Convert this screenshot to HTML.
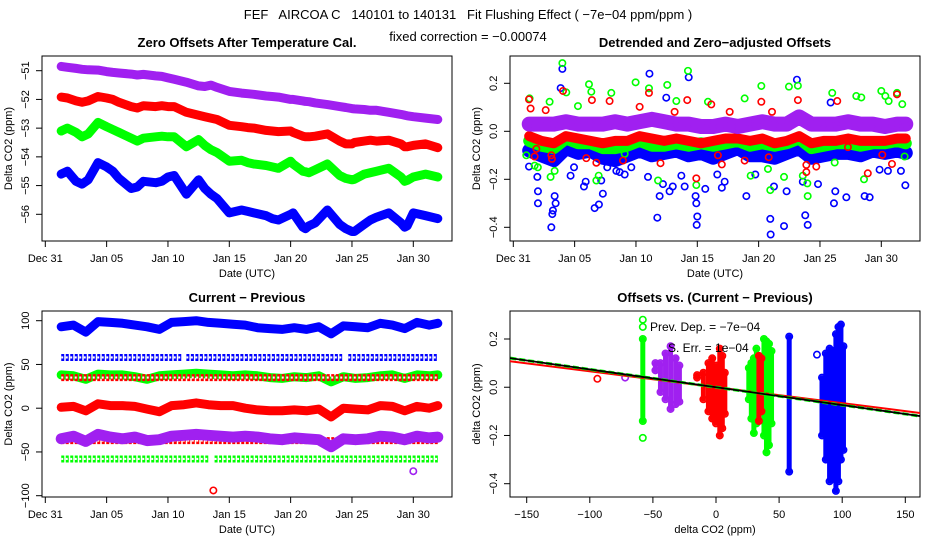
<!DOCTYPE html>
<html><head><meta charset="utf-8">
<style>
body{margin:0;background:#fff;}
svg{display:block;font-family:"Liberation Sans",sans-serif;}
</style></head>
<body>
<svg id="chart" width="936" height="540" viewBox="0 0 936 540" xmlns="http://www.w3.org/2000/svg">
<rect x="0" y="0" width="936" height="540" fill="#fff"/>
<text x="468" y="19" font-size="13" text-anchor="middle" style="white-space:pre" xml:space="preserve">FEF   AIRCOA C   140101 to 140131   Fit Flushing Effect ( −7e−04 ppm/ppm )</text>
<text x="468" y="41" font-size="13" text-anchor="middle">fixed correction = −0.00074</text>
<defs>
<clipPath id="c1"><rect x="42" y="56" width="410" height="185"/></clipPath>
<clipPath id="c2"><rect x="510" y="56" width="410" height="185"/></clipPath>
<clipPath id="c3"><rect x="42" y="311" width="410" height="186"/></clipPath>
<clipPath id="c4"><rect x="510" y="311" width="410" height="186"/></clipPath>
</defs>
</svg>
<script>
// ---------- Panel 1 data ----------
const p1Days = [1.3,1.8,2.5,3,3.5,4.3,5,5.5,6,7,7.5,8,9,9.5,10,10.5,11.5,12.5,13,13.5,14,15,16,16.5,17,18,18.5,19,20,20.2,21,21.2,21.5,22,23,24,24.5,25,25.2,26,26.5,27,28,29,29.3,29.5,30,31,32];
const p1Purple = [-50.85,-50.88,-50.92,-50.95,-50.97,-50.98,-51.03,-51.06,-51.08,-51.12,-51.15,-51.13,-51.18,-51.2,-51.25,-51.3,-51.4,-51.53,-51.55,-51.5,-51.58,-51.72,-51.78,-51.8,-51.82,-51.88,-51.9,-51.92,-52.0,-52.0,-52.05,-52.07,-52.08,-52.12,-52.18,-52.25,-52.28,-52.32,-52.33,-52.35,-52.38,-52.38,-52.45,-52.52,-52.55,-52.57,-52.6,-52.65,-52.7];
const p1Red = [-51.92,-51.95,-52.05,-52.1,-52.05,-51.9,-51.95,-52.0,-52.1,-52.25,-52.3,-52.22,-52.25,-52.22,-52.25,-52.25,-52.45,-52.55,-52.6,-52.65,-52.7,-52.9,-52.95,-52.98,-53.0,-53.08,-53.1,-53.12,-53.1,-53.15,-53.28,-53.3,-53.3,-53.28,-53.2,-53.45,-53.55,-53.55,-53.5,-53.45,-53.42,-53.45,-53.42,-53.55,-53.65,-53.65,-53.6,-53.55,-53.68];
const p1Green = [-53.1,-53.0,-53.15,-53.3,-53.2,-52.8,-52.95,-53.05,-53.15,-53.35,-53.45,-53.35,-53.3,-53.28,-53.3,-53.3,-53.65,-53.4,-53.6,-53.75,-53.85,-54.15,-54.12,-54.2,-54.25,-54.3,-54.35,-54.4,-54.15,-54.25,-54.5,-54.52,-54.55,-54.45,-54.25,-54.65,-54.75,-54.8,-54.78,-54.6,-54.55,-54.5,-54.4,-54.7,-54.85,-54.82,-54.7,-54.6,-54.7];
const p1Blue = [-54.6,-54.5,-54.85,-54.95,-54.8,-54.2,-54.35,-54.5,-54.75,-55.1,-55.05,-54.85,-54.9,-54.85,-54.7,-54.65,-55.3,-54.8,-55.1,-55.3,-55.45,-55.95,-55.85,-55.9,-55.95,-56.05,-56.15,-56.2,-56.0,-55.95,-56.45,-56.5,-56.4,-56.3,-55.85,-56.35,-56.5,-56.6,-56.6,-56.35,-56.2,-56.1,-55.95,-56.3,-56.45,-56.4,-55.95,-56.05,-56.15];
const p1YTicks = [-51,-52,-53,-54,-55,-56];
const dateTickDays = [0,5,10,15,20,25,30];
const dateTickLabels = ["Dec 31","Jan 05","Jan 10","Jan 15","Jan 20","Jan 25","Jan 30"];

// ---------- Panel 2 data ----------
const coreDays = [1.3,2.3,3.3,4.3,5.3,6.3,7.3,8.3,9.3,10.3,11.3,12.3,13.3,14.3,15.3,16.3,17.3,18.3,19.3,20.3,21.3,22.3,23.3,24.3,25.3,26.3,27.3,28.3,29.3,30.3,31.3,32];
const p2BlueCore = [-0.08,-0.1,-0.12,-0.07,-0.09,-0.08,-0.11,-0.12,-0.1,-0.08,-0.1,-0.09,-0.08,-0.1,-0.09,-0.11,-0.09,-0.07,-0.1,-0.1,-0.11,-0.09,-0.07,-0.11,-0.1,-0.09,-0.09,-0.1,-0.08,-0.09,-0.08,-0.09];
const p2GreenCore = [-0.04,-0.06,-0.07,-0.03,-0.05,-0.05,-0.07,-0.07,-0.06,-0.04,-0.06,-0.06,-0.05,-0.06,-0.05,-0.06,-0.05,-0.04,-0.06,-0.05,-0.06,-0.05,-0.03,-0.07,-0.06,-0.05,-0.05,-0.06,-0.05,-0.05,-0.04,-0.05];
const p2RedCore = [-0.02,-0.04,-0.05,-0.02,-0.03,-0.04,-0.05,-0.04,-0.04,-0.02,-0.03,-0.04,-0.03,-0.04,-0.05,-0.04,-0.03,-0.03,-0.04,-0.03,-0.05,-0.04,-0.02,-0.05,-0.04,-0.04,-0.03,-0.04,-0.04,-0.04,-0.03,-0.03];
const p2PurpleCore = [0.03,0.03,0.03,0.04,0.03,0.03,0.03,0.04,0.03,0.04,0.05,0.04,0.03,0.03,0.02,0.02,0.03,0.02,0.03,0.04,0.03,0.03,0.06,0.03,0.03,0.03,0.04,0.03,0.03,0.02,0.03,0.03];
const p2BlueDays = [1.28,1.96,2.01,2.01,3.1,3.18,3.23,3.37,3.45,4.0,3.86,4.67,4.95,5.76,5.9,6.63,6.98,7.3,7.17,7.66,8.4,8.67,9.08,9.62,11.1,10.98,11.74,11.93,12.2,12.47,12.74,13.0,13.7,13.97,14.3,14.86,14.92,15.0,14.95,15.65,16.63,17.0,17.23,19.0,19.73,20.95,20.98,21.25,22.07,22.28,23.12,23.6,23.8,24.0,24.84,25.87,26.14,26.25,27.15,28.64,29.05,29.86,30.54,31.6,31.96];
const p2BlueVals = [-0.147,-0.19,-0.25,-0.3,-0.4,-0.345,-0.33,-0.27,-0.3,0.26,0.18,-0.185,-0.15,-0.23,-0.21,-0.32,-0.305,-0.26,-0.205,-0.15,-0.165,-0.17,-0.18,-0.15,0.24,-0.19,-0.36,-0.27,-0.22,0.14,-0.25,-0.23,-0.185,-0.23,0.225,-0.27,-0.3,-0.355,-0.39,-0.24,-0.18,-0.235,-0.21,-0.27,-0.18,-0.365,-0.43,-0.23,-0.395,-0.25,0.215,-0.21,-0.35,-0.39,-0.22,0.12,-0.3,-0.25,-0.275,-0.27,-0.275,-0.16,-0.165,-0.165,-0.225];
const p2GreenDays = [1.06,1.33,1.74,2.0,2.96,3.04,3.37,4.0,4.32,5.27,6.17,6.36,6.77,6.96,7.99,9.08,9.97,11.06,11.8,12.55,13.29,14.24,14.92,15.87,18.86,19.35,20.22,20.76,20.95,22.07,22.47,23.2,23.6,23.97,24.0,26.0,26.2,27.96,28.37,28.59,30.0,30.33,30.6,31.28,31.71,31.9];
const p2GreenVals = [-0.1,0.137,-0.143,-0.15,0.123,-0.19,-0.165,0.284,0.162,0.105,0.196,0.165,-0.205,-0.185,0.16,-0.094,0.204,0.179,-0.205,0.193,0.126,0.252,-0.224,0.123,0.137,-0.185,0.189,-0.157,-0.245,-0.19,0.186,0.19,-0.185,-0.217,-0.27,0.16,-0.13,0.147,0.141,-0.2,0.168,0.147,0.126,0.16,0.113,-0.105];
const p2RedDays = [1.28,1.41,1.88,1.74,2.64,3.1,3.15,4.05,5.95,6.41,6.77,7.85,8.94,10.3,11.06,12.0,13.15,14.18,14.92,16.14,16.68,17.0,17.64,18.86,20.22,20.82,21.09,23.2,23.89,23.89,24.7,26.41,27.28,28.15,28.9,30.08,30.87,31.28,31.71];
const p2RedVals = [0.133,0.095,-0.073,-0.105,0.088,-0.1,-0.115,0.168,-0.112,0.13,-0.131,0.126,-0.122,0.102,0.16,-0.133,0.081,0.13,-0.196,0.112,-0.1,-0.138,0.081,-0.122,0.123,-0.108,0.081,0.13,-0.14,-0.17,-0.147,0.126,-0.066,-0.035,-0.175,-0.098,-0.136,0.154,0.021];
const p2YTicks = [0.2,0.0,-0.2,-0.4];
const p2YLabels = ["0.2","0.0","−0.2","−0.4"];

// ---------- Panel 3 data ----------
const p3BlueTop = [93,95,87,99,98,97,95,93,90,98,99,100,98,97,96,95,92,91,90,92,90,93,85,94,93,92,97,95,91,98,95,97];
const p3Green = [38,37,33,39,38,38,36,33,37,38,39,40,39,38,37,38,37,35,34,36,35,37,30,36,34,35,37,38,34,38,37,38];
const p3Red = [1,2,-3,5,3,3,2,-1,-4,3,4,6,4,3,3,0,-2,-3,-3,-2,-3,-1,-10,0,-1,-2,3,2,-3,2,0,3];
const p3Purple = [-35,-32,-38,-30,-33,-35,-33,-37,-36,-32,-31,-30,-31,-32,-33,-32,-33,-35,-36,-34,-35,-36,-44,-35,-36,-35,-32,-33,-36,-32,-34,-33];
const p3BlueLevel = 58, p3BlueSegs = [[1.3,11.1],[11.5,24.2],[24.7,32]];
const p3RedLevel = 35, p3RedSegs = [[1.3,32]];
const p3RedLow = -37, p3RedLowSegs = [[1.3,32]];
const p3GreenLevel = -58, p3GreenSegs = [[1.3,13.4],[13.8,32]];
const p3RedOutlier = [13.7,-94];
const p3PurpleOutlier = [30,-72];
const p3YTicks = [100,50,0,-50,-100];
const p3YLabels = ["100","50","0","−50","−100"];

// ---------- Panel 4 data ----------
const p4GreenX = [-58,26,28,30,32,38,40,42,44];
const p4GreenLo = [-0.14,-0.05,-0.13,-0.19,-0.15,-0.2,-0.27,-0.24,-0.15];
const p4GreenHi = [0.2,0.08,0.1,0.12,0.16,0.2,0.19,0.18,0.15];
const p4GreenExtraX = [-58,-58,-58];
const p4GreenExtraY = [0.28,0.25,-0.21];
const p4PurpleX = [-48,-44,-40,-36,-32,-29];
const p4PurpleLo = [0.07,-0.02,-0.05,-0.09,-0.07,-0.06];
const p4PurpleHi = [0.1,0.1,0.14,0.17,0.12,0.09];
const p4RedX = [-15,-10,-6,-3,0,3,5,7,34,36];
const p4RedLo = [0.04,-0.05,-0.1,-0.13,-0.15,-0.2,-0.17,-0.11,-0.14,-0.1];
const p4RedHi = [0.05,0.06,0.1,0.12,0.09,0.16,0.13,0.06,0.13,0.12];
const p4BlueX = [58,84,87,90,93,95,97,99,101];
const p4BlueLo = [-0.35,-0.2,-0.3,-0.39,-0.38,-0.43,-0.39,-0.3,-0.26];
const p4BlueHi = [0.21,0.04,0.14,0.16,0.15,0.22,0.25,0.26,0.17];
const p4OutX = [-94,-72,80];
const p4OutY = [0.035,0.04,0.135];
const fitSlope = -0.00074, fitSlopeRed = -0.00066;
const p4XTicks = [-150,-100,-50,0,50,100,150];
const p4XLabels = ["−150","−100","−50","0","50","100","150"];

// ---------- drawing ----------
const NS = "http://www.w3.org/2000/svg";
const svg = document.getElementById("chart");
function mk(tag, attrs, parent){const e=document.createElementNS(NS,tag);for(const k in attrs)e.setAttribute(k,attrs[k]);(parent||svg).appendChild(e);return e;}
function scale(v0,p0,v1,p1){return v=>p0+(v-v0)*(p1-p0)/(v1-v0);}
const COL={blue:"#0000FF",red:"#FF0000",green:"#00FF00",purple:"#A020F0"};

const panels = [
 {L:42,R:452,T:56,B:241,x:scale(0,45.3,30,413.3),y:scale(-51,70.7,-56,214.3),clip:"c1"},
 {L:510,R:920,T:56,B:241,x:scale(0,513.3,30,881.3),y:scale(0.2,83.3,-0.4,227.3),clip:"c2"},
 {L:42,R:452,T:311,B:497,x:scale(0,45.3,30,413.3),y:scale(100,320.7,-100,495.7),clip:"c3"},
 {L:510,R:920,T:311,B:497,x:scale(-150,526.7,150,905.3),y:scale(0.2,339,-0.4,483.7),clip:"c4"}
];

function frame(p, name, title, xlab, ylab, xt, xl, yt, yl){
  const g = mk("g",{});
  
  
  const box = mk("rect",{x:p.L,y:p.T,width:p.R-p.L,height:p.B-p.T,fill:"none",stroke:"#000","stroke-width":1},g);
  
  
  const t = mk("text",{x:(p.L+p.R)/2,y:p.T-9,"font-size":13,"font-weight":"bold","text-anchor":"middle"},g);
  t.textContent = title;
  
  
  const xa = mk("g",{},g);
  
  
  mk("line",{x1:p.x(xt[0]),x2:p.x(xt[xt.length-1]),y1:p.B,y2:p.B,stroke:"#000"},xa);
  xt.forEach((v,i)=>{
    const X=p.x(v);
    mk("line",{x1:X,x2:X,y1:p.B,y2:p.B+6,stroke:"#000"},xa);
    const tl = mk("text",{x:X,y:p.B+21,"font-size":11,"text-anchor":"middle"},xa);
    tl.textContent = xl[i];
    
    
  });
  const xtl = mk("text",{x:(p.L+p.R)/2,y:p.B+36,"font-size":11,"text-anchor":"middle"},g);
  xtl.textContent = xlab;
  
  
  const ya = mk("g",{},g);
  
  
  mk("line",{x1:p.L,x2:p.L,y1:p.y(yt[0]),y2:p.y(yt[yt.length-1]),stroke:"#000"},ya);
  yt.forEach((v,i)=>{
    const Y=p.y(v);
    mk("line",{x1:p.L-6,x2:p.L,y1:Y,y2:Y,stroke:"#000"},ya);
    const tl = mk("text",{x:0,y:0,"font-size":11,"text-anchor":"middle",transform:`translate(${p.L-13},${Y}) rotate(-90)`},ya);
    tl.textContent = yl[i];
    
    
  });
  const ytl = mk("text",{x:0,y:0,"font-size":11,"text-anchor":"middle",transform:`translate(${p.L-30},${(p.T+p.B)/2}) rotate(-90)`},g);
  ytl.textContent = ylab;
  
  
  const plot = mk("g",{"clip-path":`url(#${p.clip})`});
  
  
  return plot;
}

function band(p, g, xs, ys, color, w, name){
  const pts = xs.map((d,i)=>p.x(d).toFixed(1)+","+p.y(ys[i]).toFixed(1)).join(" ");
  const pl = mk("polyline",{points:pts,fill:"none",stroke:color,"stroke-width":w,"stroke-linejoin":"round","stroke-linecap":"round"},g);
  
  
  xs.forEach((d,i)=>{
    const c = mk("circle",{cx:p.x(d),cy:p.y(ys[i]),r:3.2,fill:"none",stroke:color,"stroke-width":1.6},g);
    
    
  });
}
function pts(p, g, xs, ys, color, name){
  xs.forEach((d,i)=>{
    const c = mk("circle",{cx:p.x(d),cy:p.y(ys[i]),r:3.2,fill:"none",stroke:color,"stroke-width":1.6},g);
    
    
  });
}
function levelRow(p, g, segs, level, color, name){
  segs.forEach(s=>{
    const l = mk("line",{x1:p.x(s[0]),x2:p.x(s[1]),y1:p.y(level),y2:p.y(level),stroke:color,"stroke-width":7,"stroke-dasharray":"3 1.5"},g);
    
    
    mk("line",{x1:p.x(s[0]),x2:p.x(s[1]),y1:p.y(level),y2:p.y(level),stroke:"#fff","stroke-width":2.2,"stroke-dasharray":"2 2.5"},g);
  });
}
function columns(p, g, xs, lo, hi, color, name){
  xs.forEach((x,i)=>{
    const l = mk("line",{x1:p.x(x),x2:p.x(x),y1:p.y(lo[i]),y2:p.y(hi[i]),stroke:color,"stroke-width":5,"stroke-linecap":"round"},g);
    
    
    mk("circle",{cx:p.x(x),cy:p.y(lo[i]),r:3.2,fill:"none",stroke:color,"stroke-width":1.6},g);
    mk("circle",{cx:p.x(x),cy:p.y(hi[i]),r:3.2,fill:"none",stroke:color,"stroke-width":1.6},g);
  });
}

// Panel 1
let p=panels[0];
let g=frame(p,"panel-zero-offsets","Zero Offsets After Temperature Cal.","Date (UTC)","Delta CO2 (ppm)",dateTickDays,dateTickLabels,p1YTicks,p1YTicks.map(v=>String(v).replace("-","−")));
band(p,g,p1Days,p1Purple,COL.purple,9,"purple-offset-series");
band(p,g,p1Days,p1Red,COL.red,9,"red-offset-series");
band(p,g,p1Days,p1Green,COL.green,9,"green-offset-series");
band(p,g,p1Days,p1Blue,COL.blue,9,"blue-offset-series");

// Panel 2
p=panels[1];
g=frame(p,"panel-detrended","Detrended and Zero−adjusted Offsets","Date (UTC)","Delta CO2 (ppm)",dateTickDays,dateTickLabels,p2YTicks,p2YLabels);
band(p,g,coreDays,p2BlueCore,COL.blue,14,"blue-detrended-core");
pts(p,g,p2BlueDays,p2BlueVals,COL.blue,"blue-detrended-point");
band(p,g,coreDays,p2GreenCore,COL.green,12,"green-detrended-core");
pts(p,g,p2GreenDays,p2GreenVals,COL.green,"green-detrended-point");
band(p,g,coreDays,p2RedCore,COL.red,10,"red-detrended-core");
pts(p,g,p2RedDays,p2RedVals,COL.red,"red-detrended-point");
band(p,g,coreDays,p2PurpleCore,COL.purple,15,"purple-detrended-core");

// Panel 3
p=panels[2];
g=frame(p,"panel-current-previous","Current − Previous","Date (UTC)","Delta CO2 (ppm)",dateTickDays,dateTickLabels,p3YTicks,p3YLabels);
band(p,g,coreDays,p3BlueTop,COL.blue,9,"blue-diff-series");
levelRow(p,g,p3BlueSegs,p3BlueLevel,COL.blue,"blue-diff-level");
band(p,g,coreDays,p3Green,COL.green,9,"green-diff-series");
levelRow(p,g,p3RedSegs,p3RedLevel,COL.red,"red-diff-level");
band(p,g,coreDays,p3Red,COL.red,9,"red-diff-series");
levelRow(p,g,p3RedLowSegs,p3RedLow,COL.red,"red-diff-low-level");
band(p,g,coreDays,p3Purple,COL.purple,11,"purple-diff-series");
levelRow(p,g,p3GreenSegs,p3GreenLevel,COL.green,"green-diff-level");
pts(p,g,[p3RedOutlier[0]],[p3RedOutlier[1]],COL.red,"red-outlier");
pts(p,g,[p3PurpleOutlier[0]],[p3PurpleOutlier[1]],COL.purple,"purple-outlier");

// Panel 4
p=panels[3];
g=frame(p,"panel-offsets-vs-diff","Offsets vs. (Current − Previous)","delta CO2 (ppm)","delta CO2 (ppm)",p4XTicks,p4XLabels,p2YTicks,p2YLabels);
columns(p,g,p4GreenX,p4GreenLo,p4GreenHi,COL.green,"green-scatter-column");
pts(p,g,p4GreenExtraX,p4GreenExtraY,COL.green,"green-scatter-point");
columns(p,g,p4PurpleX,p4PurpleLo,p4PurpleHi,COL.purple,"purple-scatter-column");
columns(p,g,p4RedX,p4RedLo,p4RedHi,COL.red,"red-scatter-column");
columns(p,g,p4BlueX,p4BlueLo,p4BlueHi,COL.blue,"blue-scatter-column");
pts(p,g,[p4OutX[0]],[p4OutY[0]],COL.red,"red-scatter-outlier");
pts(p,g,[p4OutX[1]],[p4OutY[1]],COL.purple,"purple-scatter-outlier");
pts(p,g,[p4OutX[2]],[p4OutY[2]],COL.blue,"blue-scatter-outlier");
const xa=-170, xb=170;
const fr = mk("line",{x1:p.x(xa),y1:p.y(fitSlopeRed*xa),x2:p.x(xb),y2:p.y(fitSlopeRed*xb),stroke:COL.red,"stroke-width":2},g);


const fg = mk("line",{x1:p.x(xa),y1:p.y(fitSlope*xa),x2:p.x(xb),y2:p.y(fitSlope*xb),stroke:COL.green,"stroke-width":3,"stroke-dasharray":"6 3"},g);


const fb = mk("line",{x1:p.x(xa),y1:p.y(fitSlope*xa),x2:p.x(xb),y2:p.y(fitSlope*xb),stroke:"#000","stroke-width":1.8},g);


const t1 = mk("text",{x:650,y:331,"font-size":12});
t1.textContent = "Prev. Dep. =  −7e−04";


const t2 = mk("text",{x:668,y:352,"font-size":12});
t2.textContent = "S. Err. =  1e−04";


</script>
</body></html>
